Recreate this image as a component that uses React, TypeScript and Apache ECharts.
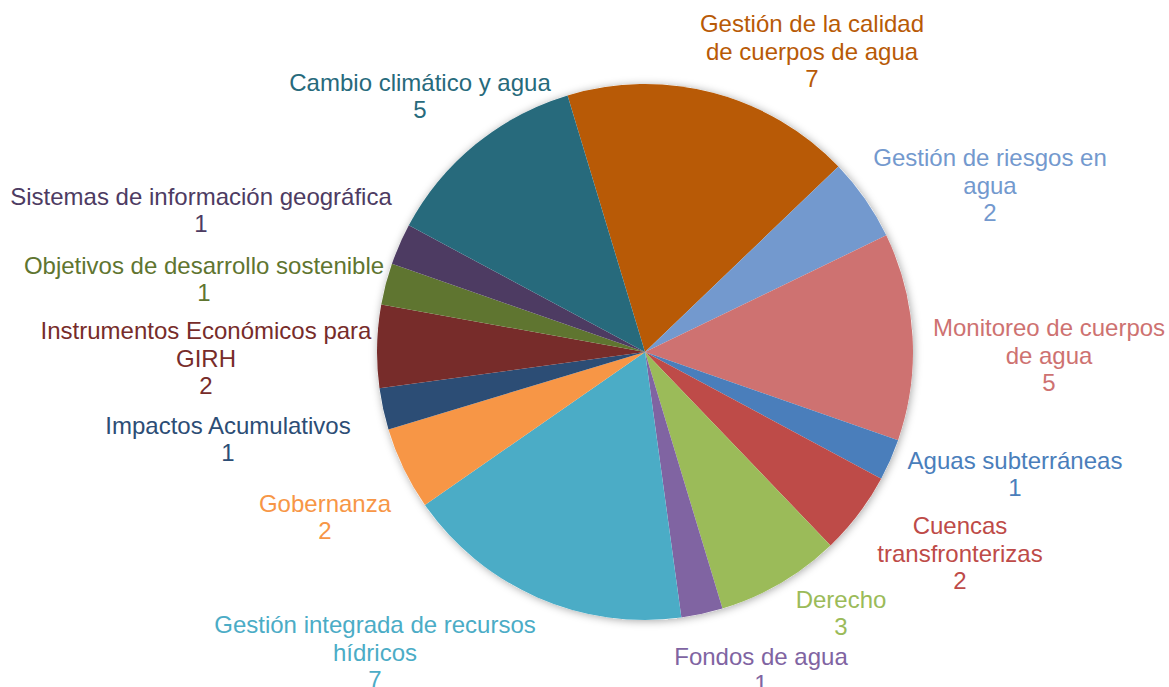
import React, { useEffect, useRef } from "react";
import * as echarts from "echarts";

const categories = [
  "Gestión de la calidad de cuerpos de agua",
  "Gestión de riesgos en agua",
  "Monitoreo de cuerpos de agua",
  "Aguas subterráneas",
  "Cuencas transfronterizas",
  "Derecho",
  "Fondos de agua",
  "Gestión integrada de recursos hídricos",
  "Gobernanza",
  "Impactos Acumulativos",
  "Instrumentos Económicos para GIRH",
  "Objetivos de desarrollo sostenible",
  "Sistemas de información geográfica",
  "Cambio climático y agua",
];

const labelLines = [
  "Gestión de la calidad\nde cuerpos de agua",
  "Gestión de riesgos en\nagua",
  "Monitoreo de cuerpos\nde agua",
  "Aguas subterráneas",
  "Cuencas\ntransfronterizas",
  "Derecho",
  "Fondos de agua",
  "Gestión integrada de recursos\nhídricos",
  "Gobernanza",
  "Impactos Acumulativos",
  "Instrumentos Económicos para\nGIRH",
  "Objetivos de desarrollo sostenible",
  "Sistemas de información geográfica",
  "Cambio climático y agua",
];

const values = [7, 2, 5, 1, 2, 3, 1, 7, 2, 1, 2, 1, 1, 5];

const colors = [
  "#B85A06",
  "#7399CE",
  "#CE7271",
  "#4A7EBB",
  "#BE4B48",
  "#9BBB59",
  "#8064A2",
  "#4BACC6",
  "#F79646",
  "#2C4D75",
  "#772C2A",
  "#5F7530",
  "#4D3B62",
  "#276A7C",
];

// label block centres (layout only)
const labelAnchors: [number, number][] = [
  [812, 51],
  [990, 185],
  [1049, 355],
  [1015, 474],
  [960, 553],
  [841, 613],
  [761, 670],
  [375, 652],
  [325, 517],
  [228, 439],
  [206, 358],
  [204, 279],
  [201, 210],
  [420, 96],
];

export default function App() {
  const ref = useRef<HTMLDivElement>(null);
  useEffect(() => {
    document.body.style.margin = "0";
    const chart = echarts.init(ref.current!, undefined, { renderer: "svg" });
    const font = "'Liberation Sans', Arial, sans-serif";
    chart.setOption({
      animation: false,
      backgroundColor: "#ffffff",
      series: [
        {
          type: "pie",
          silent: true,
          center: [645, 352],
          radius: 268,
          z: 1,
          label: { show: false },
          labelLine: { show: false },
          itemStyle: {
            color: "#ffffff",
            shadowBlur: 8,
            shadowColor: "rgba(0,0,0,0.35)",
            shadowOffsetX: 1,
            shadowOffsetY: 1,
          },
          data: [{ value: 1, name: "" }],
        },
        {
          type: "pie",
          z: 2,
          center: [645, 352],
          radius: 268,
          startAngle: 106.8,
          clockwise: true,
          avoidLabelOverlap: false,
          itemStyle: { borderWidth: 0 },
          labelLine: { show: false },
          label: {
            show: true,
            position: "outside",
            fontFamily: font,
            fontSize: 24,
            lineHeight: 27.6,
            align: "center",
            formatter: (p: any) => labelLines[p.dataIndex] + "\n" + p.value,
          },
          labelLayout: (p: any) => {
            const a = labelAnchors[p.dataIndex];
            return { x: a[0], y: a[1], align: "center", verticalAlign: "middle" };
          },
          data: categories.map((c, i) => ({
            name: c,
            value: values[i],
            itemStyle: { color: colors[i] },
            label: { color: colors[i] },
          })),
        },
      ],
    });
    return () => chart.dispose();
  }, []);
  return (
    <div
      ref={ref}
      style={{ position: "absolute", left: 0, top: 0, width: 1169, height: 687 }}
    />
  );
}
